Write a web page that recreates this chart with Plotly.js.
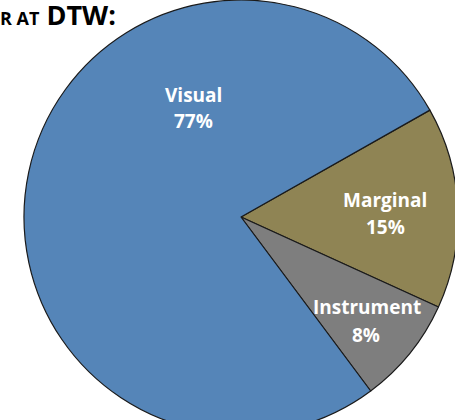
<!DOCTYPE html>
<html>
<head>
<meta charset="utf-8">
<script src="https://cdn.plot.ly/plotly-3.0.1.min.js"></script>
<style>
html,body{margin:0;padding:0;width:455px;height:420px;overflow:hidden;background:#fff;}
#chart{position:absolute;left:0;top:0;width:480px;height:440px;}
</style>
</head>
<body>
<div id="chart"></div>
<script>
var categories = ['Marginal', 'Instrument', 'Visual'];
var values = [15, 8, 77];
var percentLabels = ['15%', '8%', '77%'];
var sliceColors = ['#8F8454', '#7E7E7E', '#5585B8'];

var W = 480, H = 440;
// label centres in pixels for name and percent of each category
var namePx = [[385, 200], [367, 307], [193, 95]];
var pctPx  = [[385, 227], [366, 335], [193, 121]];

var annotations = [];
for (var i = 0; i < categories.length; i++) {
  annotations.push({
    text: '<b>' + categories[i] + '</b>', xref: 'paper', yref: 'paper',
    x: namePx[i][0] / W, y: 1 - namePx[i][1] / H, xanchor: 'center', yanchor: 'middle',
    showarrow: false, font: {family: 'Open Sans, sans-serif', size: 19, color: '#ffffff'}
  });
  annotations.push({
    text: '<b>' + percentLabels[i] + '</b>', xref: 'paper', yref: 'paper',
    x: pctPx[i][0] / W, y: 1 - pctPx[i][1] / H, xanchor: 'center', yanchor: 'middle',
    showarrow: false, font: {family: 'Open Sans, sans-serif', size: 19, color: '#ffffff'}
  });
}

var data = [{
  type: 'pie',
  labels: categories,
  values: values,
  sort: false,
  direction: 'clockwise',
  rotation: 60.5,
  textinfo: 'none',
  hoverinfo: 'label+percent',
  marker: {colors: sliceColors, line: {color: '#1a1a1a', width: 1.2}},
  domain: {x: [24 / W, 458 / W], y: [(H - 434) / H, 1]}
}];

var layout = {
  width: W, height: H,
  margin: {l: 0, r: 0, t: 0, b: 0},
  showlegend: false,
  paper_bgcolor: '#ffffff',
  title: {
    text: '<b><span style="font-size:18px">R AT</span> DTW:</b>',
    x: 0, xref: 'container', xanchor: 'left',
    y: 1 - 16 / H, yref: 'container', yanchor: 'middle',
    font: {family: 'Open Sans, sans-serif', size: 27, color: '#000000'}
  },
  annotations: annotations
};

Plotly.newPlot('chart', data, layout, {staticPlot: true});
</script>
</body>
</html>
